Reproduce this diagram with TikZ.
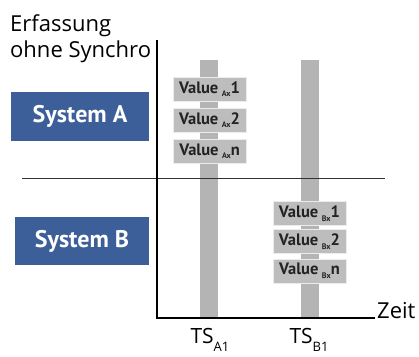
\documentclass[tikz,border=0pt]{standalone}
\usepackage{fontspec}
\setmainfont{PT Sans}
\newfontfamily\lblfont{Open Sans}
\definecolor{sysblue}{HTML}{3D5F99}
\definecolor{bargray}{HTML}{B4B4B4}
\definecolor{valgray}{HTML}{BDBDBD}
\definecolor{txtdark}{HTML}{222222}
\newcommand{\vsub}[1]{\hspace{3.5pt}\raisebox{-3.5pt}{\fontsize{8}{9}\selectfont #1}}
\begin{document}
\begin{tikzpicture}[x=1pt,y=-1pt,
  sysbox/.style={fill=sysblue,draw=none,text=white,font=\bfseries\fontsize{24}{28}\selectfont},
  bar/.style={fill=bargray,draw=none},
  valbox/.style={fill=valgray,draw=white!85!gray,line width=0.6pt,text=txtdark,inner sep=0pt,
    minimum width=73pt,minimum height=24pt,font=\bfseries\fontsize{16.5}{19}\selectfont},
  axis/.style={line width=1.6pt,black},
  lbl/.style={font=\lblfont\fontsize{22}{26}\selectfont,text=black,inner sep=0pt}]
\useasboundingbox (0,0) rectangle (419,356);
% bars
\fill[bar] (200,60) rectangle (218,318);
\fill[bar] (301,60) rectangle (319,318);
% divider
\draw[line width=0.8pt,black!80] (22,178) -- (385,178);
% axes
\coordinate (top) at (157,40);
\coordinate (origin) at (157,318);
\coordinate (xend) at (375,318);
\draw[axis] (top) -- (origin) -- (xend);
\node[lbl,anchor=base west] (zeit) at (377,318) {Zeit};
% title
\node[lbl,anchor=base west] (title1) at (10,31) {Erfassung};
\node[lbl,anchor=base west] (title2) at (10,57) {ohne Synchro};
% systems
\node[sysbox,minimum width=138pt,minimum height=49pt] (sa) at (80,116.5) {System A};
\node[sysbox,minimum width=134pt,minimum height=48pt] (sb) at (82,241) {System B};
% value boxes A
\node[valbox] (a1) at (209.5,89) {Value\vsub{Ax}1};
\node[valbox] (a2) at (209.5,120) {Value\vsub{Ax}2};
\node[valbox] (a3) at (209.5,151) {Value\vsub{Ax}n};
% value boxes B
\node[valbox] (b1) at (309.5,213.5) {Value\vsub{Bx}1};
\node[valbox] (b2) at (309.5,241.5) {Value\vsub{Bx}2};
\node[valbox] (b3) at (309.5,271) {Value\vsub{Bx}n};
% TS labels
\node[lbl,anchor=base,font=\lblfont\fontsize{21}{24}\selectfont] (tsa) at (210,343) {TS\raisebox{-8pt}{\fontsize{13}{15}\selectfont A1}};
\node[lbl,anchor=base,font=\lblfont\fontsize{21}{24}\selectfont] (tsb) at (309,343) {TS\raisebox{-8pt}{\fontsize{13}{15}\selectfont B1}};
\end{tikzpicture}
\end{document}
